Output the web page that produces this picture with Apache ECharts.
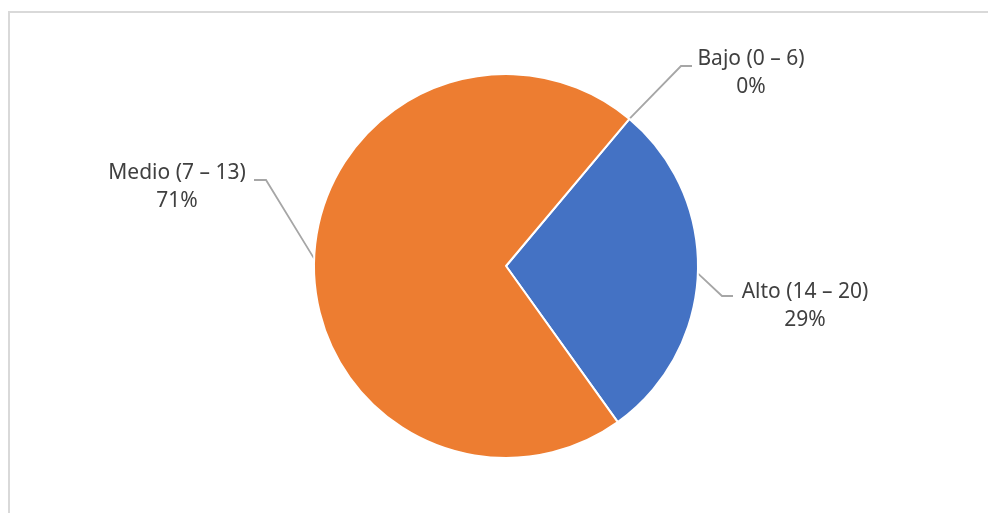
<!DOCTYPE html>
<html>
<head>
    <meta charset="utf-8">
    <style>
        html, body { margin: 0; padding: 0; background: #fff; overflow: hidden; }
        #container { position: absolute; left: 8px; top: 11px; width: 990px; height: 510px;
            border-left: 2px solid #d9d9d9; border-top: 2px solid #d9d9d9; }
        #chart { width: 988px; height: 513px; }
    </style>
</head>
<body>
<div id="container"></div>
<div id="chart" style="position:absolute;left:0;top:0;"></div>
<script src="https://cdn.jsdelivr.net/npm/echarts@6/dist/echarts.min.js"></script>
<script type="text/javascript">
    // categorias y valores (%)
    var categories = ['Bajo (0 – 6)', 'Alto (14 – 20)', 'Medio (7 – 13)'];
    var values = [0, 29, 71];
    var colors = ['#a5a5a5', '#4472C4', '#ED7D31'];

    // posicion de etiquetas respecto al centro del pastel (px)
    var labelOffset = [[245, -193], [299, 40], [-329, -79]];
    var elbowOffset = [[175, -200], [216, 30], [-240, -86]];
    var endOffset = [[186, -200], [227, 30], [-252, -86]];

    var cx = 506, cy = 266;

    var myChart = echarts.init(document.getElementById('chart'));
    var data = [];
    for (var i = 0; i < categories.length; i++) {
        data.push({ name: categories[i], value: values[i], itemStyle: { color: colors[i] } });
    }

    var option = {
        animation: false,
        series: [{
            type: 'pie',
            center: [cx, cy],
            radius: 192,
            startAngle: 50,
            clockwise: true,
            avoidLabelOverlap: false,
            stillShowZeroSum: true,
            itemStyle: { borderColor: '#fff', borderWidth: 2 },
            label: {
                show: true,
                position: 'outside',
                color: '#404040',
                fontFamily: 'Noto Sans',
                fontSize: 21,
                lineHeight: 28,
                align: 'center',
                formatter: function (p) {
                    return p.name + '\n' + Math.round(p.percent) + '%';
                }
            },
            labelLine: {
                show: true,
                length: 20,
                length2: 10,
                lineStyle: { color: '#a6a6a6', width: 1.8 }
            },
            labelLayout: function (p) {
                var i = p.dataIndex;
                var start = p.labelLinePoints ? p.labelLinePoints[0] : [cx, cy];
                return {
                    x: cx + labelOffset[i][0],
                    y: cy + labelOffset[i][1],
                    align: 'center',
                    verticalAlign: 'middle',
                    labelLinePoints: [
                        start,
                        [cx + elbowOffset[i][0], cy + elbowOffset[i][1]],
                        [cx + endOffset[i][0], cy + endOffset[i][1]]
                    ]
                };
            },
            data: data
        }]
    };
    myChart.setOption(option);
</script>
</body>
</html>
